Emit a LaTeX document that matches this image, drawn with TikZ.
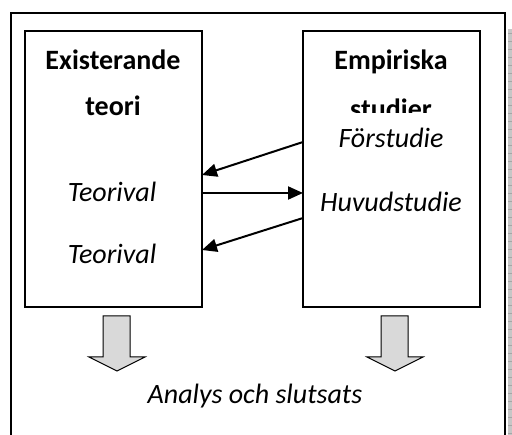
\documentclass[tikz,border=0pt]{standalone}
\usepackage{fontspec}
\setmainfont{Carlito}
\usetikzlibrary{arrows.meta}
\begin{document}
\begin{tikzpicture}[x=1pt,y=-1pt,
  frame/.style={draw=black,line width=1.3pt},
  colbox/.style={draw=black,line width=2pt},
  head/.style={font=\fontsize{28}{32}\selectfont\bfseries,anchor=base},
  item/.style={font=\fontsize{28}{32}\selectfont\itshape,anchor=base},
  link/.style={line width=2pt,-{Triangle[length=15pt,width=13pt]}},
  bigarrow/.style={draw=black,line width=1pt,fill=gray!30,line join=miter}]
\useasboundingbox (0,0) rectangle (512,435);
\fill[white] (0,0) rectangle (512,435);
% shadow strip at the right edge
\fill[gray!45] (508,29) rectangle (512,435);
\foreach \yy in {33,41,...,435} \draw[gray!70,line width=0.4pt] (508,\yy) -- (512,\yy);
% outer frame, open at the bottom
\draw[frame] (11,445) -- (11,13) -- (505,13) -- (505,445);
% the two columns
\node[colbox,minimum width=177pt,minimum height=276pt,inner sep=0pt] (theory) at (113.5,169) {};
\node[colbox,minimum width=177pt,minimum height=276pt,inner sep=0pt] (empiry) at (391.5,169) {};
% headings
\node[head] (theoryA) at (113,70) {Existerande};
\node[head] (theoryB) at (113,116) {teori};
\node[head] (empA) at (391,70) {Empiriska};
\begin{scope}
  \clip (303,80) rectangle (480,113);
  \node[head] (empB) at (391,119) {studier};
\end{scope}
% items
\node[item] (pre) at (391,148) {Förstudie};
\node[item] (main) at (391,212) {Huvudstudie};
\node[item] (choiceA) at (112,202) {Teorival};
\node[item] (choiceB) at (112,264) {Teorival};
% connectors between the columns
\coordinate (e1) at (303,142);
\coordinate (t1) at (202,175);
\coordinate (t2) at (202,193);
\coordinate (e2) at (303,193);
\coordinate (e3) at (303,218);
\coordinate (t3) at (202,250);
\draw[link] (e1) -- (t1);
\draw[link] (t2) -- (e2);
\draw[link] (e3) -- (t3);
% block arrows down to the conclusion
\draw[bigarrow] (103,316) -- (130,316) -- (130,357) -- (145,357) -- (117,371) -- (89,357) -- (103,357) -- cycle;
\draw[bigarrow] (381,316) -- (408,316) -- (408,357) -- (423,357) -- (395,371) -- (367,357) -- (381,357) -- cycle;
\node[item] (result) at (255,404) {Analys och slutsats};
\end{tikzpicture}
\end{document}
